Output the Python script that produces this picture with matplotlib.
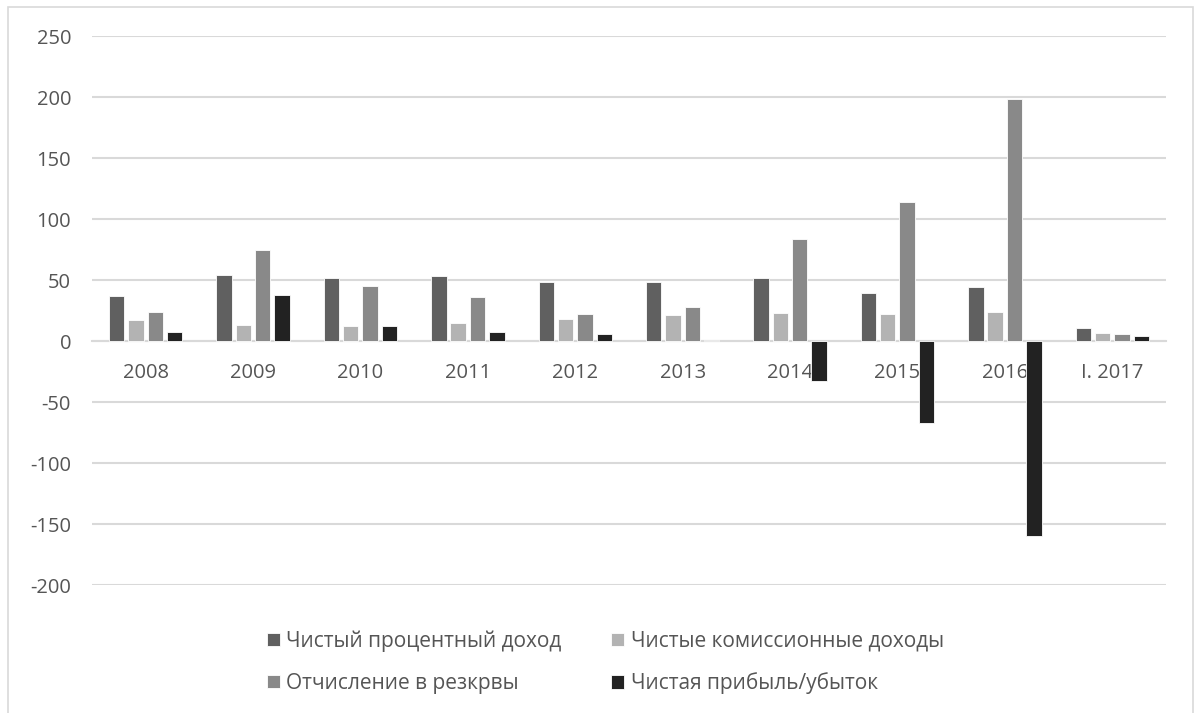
import numpy as np
import matplotlib
matplotlib.use("Agg")
import matplotlib.pyplot as plt
from matplotlib.patches import Rectangle

plt.rcParams['font.family'] = ['Open Sans', 'DejaVu Sans']
plt.rcParams['axes.unicode_minus'] = False

# Categories and series
years = ["2008", "2009", "2010", "2011", "2012", "2013", "2014", "2015", "2016", "I. 2017"]
net_interest = [37, 54, 51.5, 53.5, 48.5, 48.5, 52, 39, 44, 11]
net_commission = [17, 13, 12.5, 15, 18, 21, 23, 22, 24, 6.5]
provisions = [23.5, 75, 45.5, 36, 22, 27.5, 84, 114, 198, 6]
net_profit = [7, 38, 12.5, 7, 5.5, 0.8, -33, -67, -160, 4.5]

series_names = ["Чистый процентный доход", "Чистые комиссионные доходы",
                "Отчисление в резкрвы", "Чистая прибыль/убыток"]
colors = ["#606060", "#b3b3b3", "#898989", "#222222"]
text_color = "#555555"
grid_color = "#d9d9d9"

fig = plt.figure(figsize=(11.94, 7.13), dpi=100)
ax = fig.add_axes([0.077, 0.1795, 0.8995, 0.77])

# outer chart frame
fig.patches.append(Rectangle((8 / 1194, -0.05), 1185 / 1194, 1.05 - 7 / 713,
                             transform=fig.transFigure, fill=False,
                             edgecolor=grid_color, linewidth=1.2))

x = np.arange(len(years))
step = 0.18
width = 0.143
all_series = [net_interest, net_commission, provisions, net_profit]
bars = []
for i, (vals, name, col) in enumerate(zip(all_series, series_names, colors)):
    b = ax.bar(x + (i - 1.5) * step, vals, width, color=col, label=name,
               edgecolor="white", linewidth=0.6, zorder=3)
    bars.append(b)

ax.set_ylim(-200, 250)
ax.set_xlim(-0.5, len(years) - 0.5)
ax.set_yticks(np.arange(-200, 251, 50))
ax.yaxis.grid(True, color=grid_color, linewidth=1.5, zorder=0)
ax.set_axisbelow(True)

for s in ["top", "right", "left"]:
    ax.spines[s].set_visible(False)
ax.spines["bottom"].set_position(("data", 0))
ax.spines["bottom"].set_color(grid_color)
ax.spines["bottom"].set_linewidth(1.5)
ax.spines["bottom"].set_zorder(2)

ax.set_xticks(x)
ax.set_xticklabels(years)
ax.tick_params(axis="x", length=0, pad=16, labelsize=14.5, labelcolor=text_color)
ax.tick_params(axis="y", length=0, pad=15, labelsize=14.5, labelcolor=text_color)

# legend filled row by row
order = [0, 2, 1, 3]
fig.legend([bars[i] for i in order], [series_names[i] for i in order],
           loc="center", bbox_to_anchor=(0.507, 0.071), ncol=2, frameon=False,
           fontsize=15, labelcolor=text_color, handlelength=0.62, handleheight=0.62,
           handletextpad=0.3, columnspacing=2.4, labelspacing=1.0)

fig.savefig("out.png", dpi=100)
